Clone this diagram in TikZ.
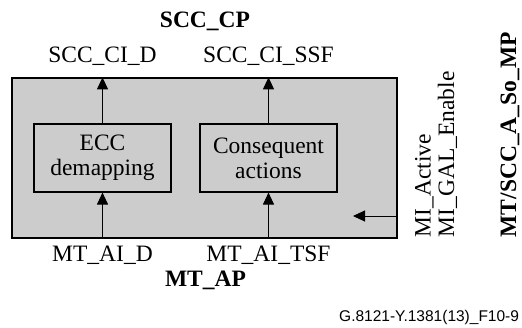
\documentclass[tikz,border=0pt]{standalone}
\usepackage{fontspec}
\setmainfont{Liberation Serif}
\newfontfamily\figfont{Liberation Sans}
\usetikzlibrary{arrows.meta,positioning,calc}
\definecolor{boxgray}{RGB}{204,204,204}

\begin{document}
\begin{tikzpicture}[
        x=1pt, y=-1pt,
        every node/.style={font=\fontsize{23.5}{25}\selectfont},
        func/.style={draw, line width=1.3pt, fill=boxgray, minimum width=385pt, minimum height=160pt},
        proc/.style={draw, line width=1.1pt, fill=boxgray, minimum width=137pt, minimum height=68pt, align=center, inner sep=0pt},
        sig/.style={anchor=base, inner sep=0pt},
        port/.style={sig, font=\fontsize{23.5}{25}\selectfont\bfseries},
        flow/.style={-{Triangle[length=12pt,width=11pt]}, line width=1pt}
    ]
    \useasboundingbox (0,0) rectangle (522,327);

    \node (so) [func] at (204.5,158) {};
    \node (ecc) [proc] at (102.5,158) {ECC\\demapping};
    \node (ca) [proc] at (268.5,158) {Consequent\\actions};

    % characteristic and adapted information
    \node (cp) [port] at (205,27.5) {SCC\_CP};
    \node (cid) [sig] at (102.5,62.5) {SCC\_CI\_D};
    \node (cissf) [sig] at (268.5,62.5) {SCC\_CI\_SSF};
    \node (aid) [sig] at (102.5,261.5) {MT\_AI\_D};
    \node (aitsf) [sig] at (268.5,261.5) {MT\_AI\_TSF};
    \node (ap) [port] at (205.5,286.5) {MT\_AP};

    \draw[flow] (ecc.north) -- (ecc.north |- so.north);
    \draw[flow] (ca.north) -- (ca.north |- so.north);
    \draw[flow] (ecc.south |- so.south) -- (ecc.south);
    \draw[flow] (ca.south |- so.south) -- (ca.south);

    % management
    \coordinate (mitip) at (353,216);
    \draw[flow] (so.east |- mitip) -- (mitip);
    \node (mi) [rotate=90, anchor=west, align=left, inner sep=0pt, font=\fontsize{23.5}{23.5}\selectfont] at (436,237.5) {MI\_Active\\MI\_GAL\_Enable};
    \node (mp) [rotate=90, anchor=west, inner sep=0pt, font=\fontsize{23.5}{25}\selectfont\bfseries] at (510,237.5) {MT/SCC\_A\_So\_MP};

    \node (fig) [anchor=base west, inner sep=0pt, font=\figfont\fontsize{15.5}{17}\selectfont] at (339,321.5) {G.8121-Y.1381(13)\_F10-9};
\end{tikzpicture}
\end{document}
